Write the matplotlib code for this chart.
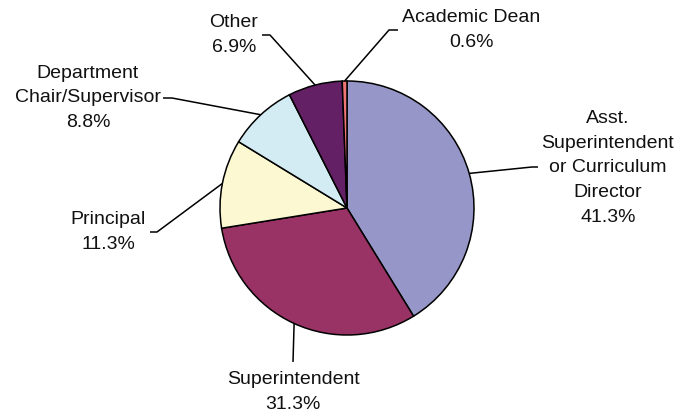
import matplotlib.pyplot as plt
import numpy as np

plt.rcParams['font.family'] = ['Liberation Sans', 'DejaVu Sans']

roles = ['Asst.\nSuperintendent\nor Curriculum\nDirector', 'Superintendent', 'Principal',
         'Department\nChair/Supervisor', 'Other', 'Academic Dean']
shares = [41.3, 31.3, 11.3, 8.8, 6.9, 0.6]
colors = ['#9696C8', '#993366', '#FCF9D2', '#D3ECF4', '#642064', '#F07575']

# label centre, elbow and end of the leader line (figure pixels, y down)
label_xy = [(608, 168), (293, 392), (108, 232), (88, 98), (234, 35), (471, 30)]
elbows = [(532, 167), None, (157, 232), (172, 98), (270, 35), (389, 30)]
ends = [(538, 167), (293, 362), (150, 232), (163, 98), (262, 35), (398, 30)]

W, H = 681, 416
fig = plt.figure(figsize=(W / 100, H / 100), dpi=100)
ax = fig.add_axes([0, 0, 1, 1])

cx, cy, r = 347, H - 208, 127
wedges, _ = ax.pie(shares, colors=colors, startangle=90, counterclock=False,
                   center=(cx, cy), radius=r, frame=True,
                   wedgeprops=dict(edgecolor='black', linewidth=1.1))
ax.set_xlim(0, W)
ax.set_ylim(0, H)
ax.set_aspect('equal')
ax.axis('off')

for w, name, val, (tx, ty), elb, end in zip(wedges, roles, shares, label_xy, elbows, ends):
    mid = np.deg2rad((w.theta1 + w.theta2) / 2)
    x0, y0 = cx + r * np.cos(mid), cy + r * np.sin(mid)
    pts = [(x0, y0)]
    if elb is not None:
        pts.append((elb[0], H - elb[1]))
    pts.append((end[0], H - end[1]))
    xs, ys = zip(*pts)
    ax.plot(xs, ys, color='black', lw=1.1, solid_capstyle='butt')
    ax.text(tx, H - ty, f'{name}\n{val:.1f}%', ha='center', va='center',
            fontsize=14, color='#111111', linespacing=1.6)

fig.savefig('out.png', dpi=100)
